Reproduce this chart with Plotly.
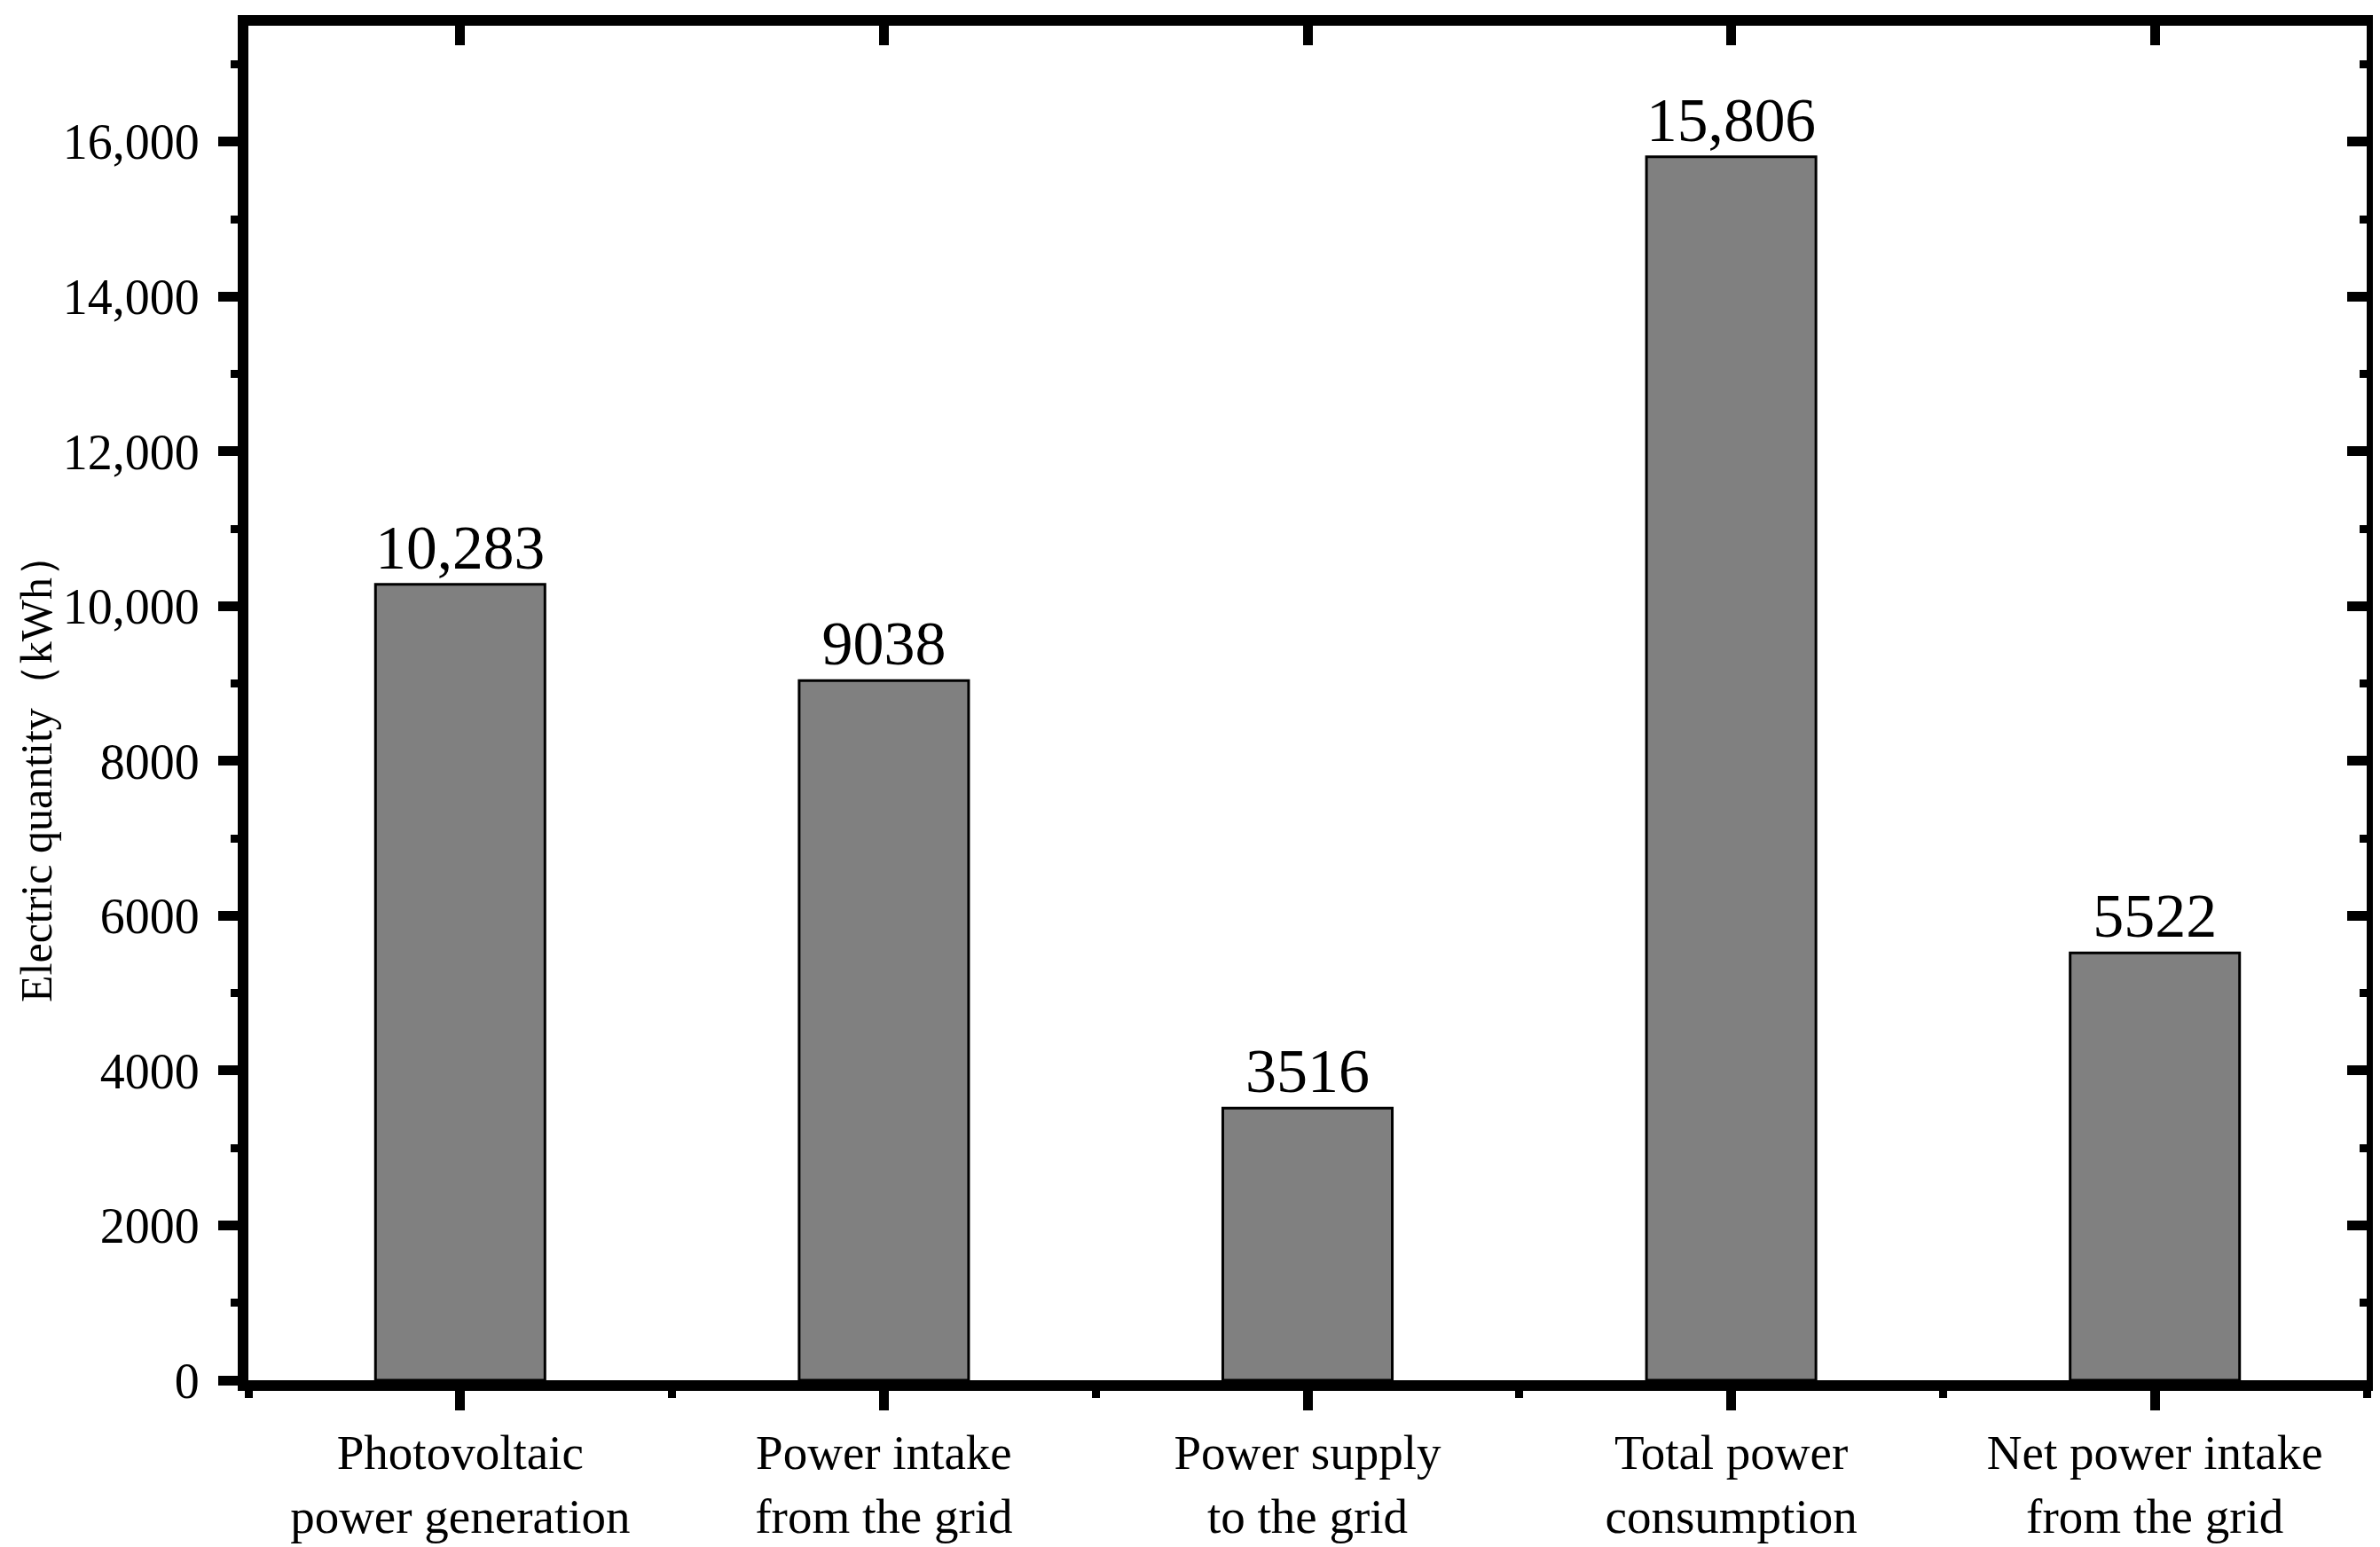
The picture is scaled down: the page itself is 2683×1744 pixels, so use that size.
import plotly.graph_objects as go

categories = [
    "Photovoltaic<br>power generation",
    "Power intake<br>from the grid",
    "Power supply<br>to the grid",
    "Total power<br>consumption",
    "Net power intake<br>from the grid",
]
values = [10283, 9038, 3516, 15806, 5522]
y_tick_values = [0, 2000, 4000, 6000, 8000, 10000, 12000, 14000, 16000]


def fmt(v):
    return f"{v:,}" if v >= 10000 else str(v)


y_tick_labels = [fmt(v) for v in y_tick_values]
bar_labels = [fmt(v) for v in values]
xpos = list(range(len(categories)))

FONT = "Liberation Serif"
W, H = 2683, 1744
L, R, T, B = 272, 23, 21, 179

fig = go.Figure()
fig.add_trace(go.Bar(
    x=xpos, y=values, width=0.4,
    marker=dict(color="#808080", line=dict(color="black", width=3)),
    text=bar_labels, textposition="outside",
    textfont=dict(family=FONT, size=70, color="black"),
    cliponaxis=False, showlegend=False,
))
# invisible trace to host the mirrored (inward-tick) top and right axes
fig.add_trace(go.Scatter(
    x=[0], y=[0], xaxis="x2", yaxis="y2", mode="markers",
    marker=dict(opacity=0), hoverinfo="skip", showlegend=False,
))

axis_common = dict(showgrid=False, zeroline=False, showline=True,
                   linecolor="black", linewidth=12, tickcolor="black")

fig.update_layout(
    width=W, height=H,
    margin=dict(l=L, r=R, t=T, b=B),
    paper_bgcolor="white", plot_bgcolor="white",
    font=dict(family=FONT, color="black"),
    xaxis=dict(
        **axis_common,
        range=[-0.5, 4.5],
        tickmode="array", tickvals=xpos, ticktext=categories,
        ticks="outside", ticklen=22, tickwidth=11,
        tickfont=dict(family=FONT, size=55, color="black"),
        minor=dict(tickmode="array", tickvals=[-0.5, 0.5, 1.5, 2.5, 3.5, 4.5],
                   ticks="outside", ticklen=8, tickwidth=9, tickcolor="black"),
    ),
    yaxis=dict(
        **axis_common,
        range=[0, 17500],
        tickmode="array", tickvals=y_tick_values, ticktext=y_tick_labels,
        ticks="outside", ticklen=22, tickwidth=11,
        ticklabelstandoff=10,
        tickfont=dict(family=FONT, size=56, color="black"),
        minor=dict(dtick=1000, tick0=0, ticks="outside", ticklen=8,
                   tickwidth=9, tickcolor="black"),
    ),
    xaxis2=dict(
        **axis_common,
        overlaying="x", side="top", anchor="y",
        range=[-0.5, 4.5],
        tickmode="array", tickvals=xpos, showticklabels=False,
        ticks="inside", ticklen=22, tickwidth=11,
    ),
    yaxis2=dict(
        **axis_common,
        overlaying="y", side="right", anchor="x",
        range=[0, 17500],
        tickmode="array", tickvals=y_tick_values, showticklabels=False,
        ticks="inside", ticklen=22, tickwidth=11,
        minor=dict(dtick=1000, tick0=0, ticks="inside", ticklen=8,
                   tickwidth=9, tickcolor="black"),
    ),
    annotations=[dict(
        text="Electric quantity（kWh）", textangle=-90,
        xref="paper", yref="paper", x=-0.1, y=0.452,
        xanchor="center", yanchor="middle", showarrow=False,
        font=dict(family=FONT, size=50, color="black"),
    )],
)

fig.write_html("out.html")
